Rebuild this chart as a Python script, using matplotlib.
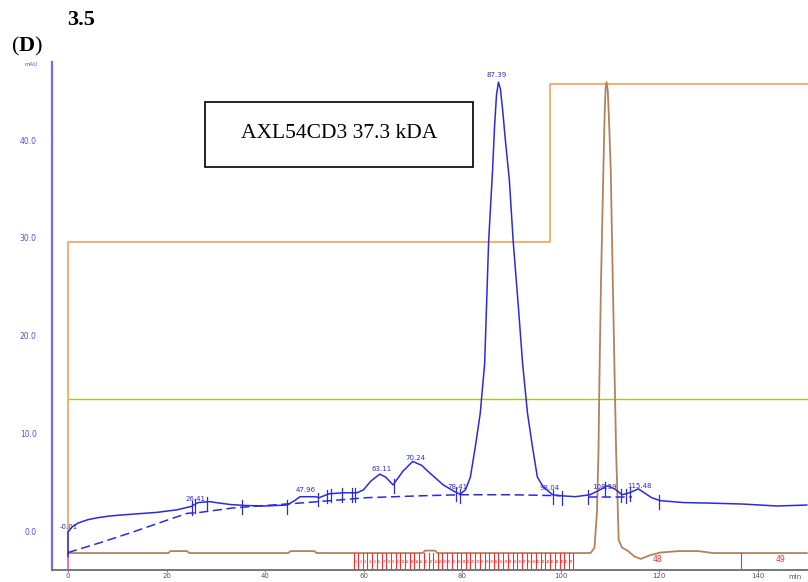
import numpy as np
import matplotlib
matplotlib.use("Agg")
import matplotlib.pyplot as plt
from matplotlib.patches import Rectangle

plt.rcParams['mathtext.fontset'] = 'custom'
plt.rcParams['mathtext.rm'] = 'Liberation Serif'
plt.rcParams['mathtext.bf'] = 'Liberation Serif:bold'

# ---------------- data ----------------
# UV 280 nm trace (blue, mAU) vs time (min)
blue_t = [0, 0, 0.8, 2, 4, 6, 8, 10, 14, 18, 22, 25, 26.4, 28.8, 30, 33, 36, 40, 44.5,
          46, 47.1, 50.2, 51, 53, 56, 58.7, 60, 61.5, 63.3, 64.5, 66.0, 68, 70.0, 71.8,
          73.5, 76.2, 78.2, 79.6, 80.7, 81.7, 82.7, 83.7, 84.3, 84.6, 85.4, 86.2, 86.6,
          87.0, 87.4, 87.8, 88.3, 88.8, 89.6, 90.4, 91.5, 92.3, 93.3, 94.3, 95.3, 96.5,
          98.4, 100, 103, 106, 108, 109.5, 111, 112.5, 114, 115.8, 117, 118.5, 120.2,
          125, 130, 137, 144, 150]
blue_v = [-2.5, 0.0, 0.5, 0.9, 1.25, 1.45, 1.6, 1.7, 1.85, 2.0, 2.25, 2.6, 3.0, 3.1,
          3.0, 2.8, 2.7, 2.65, 2.75, 3.2, 3.6, 3.6, 3.5, 3.9, 4.0, 4.0, 4.3, 5.2, 5.9,
          5.6, 4.8, 6.2, 7.2, 6.8, 6.0, 4.8, 4.2, 3.85, 4.3, 5.6, 8.7, 12.1, 15.5, 17.2,
          29.6, 36.9, 41.3, 44.6, 45.9, 45.2, 42.8, 40.0, 36.0, 29.6, 22.6, 17.2, 12.1,
          8.7, 5.6, 4.6, 3.8, 3.7, 3.6, 3.8, 4.3, 4.7, 4.4, 3.8, 4.0, 4.4, 4.0, 3.5, 3.2,
          3.0, 2.95, 2.85, 2.65, 2.75]

# integration baseline (dashed blue)
base1_t = [0, 6.5, 13.2, 20.1, 24.2, 26.8, 33.5, 40, 48.4, 60.7, 72.2, 79.7, 90, 100]
base1_v = [-2.1, -1.1, 0.0, 1.2, 1.9, 2.0, 2.45, 2.7, 3.0, 3.5, 3.7, 3.8, 3.8, 3.7]
base2_t = [105.5, 114.5]
base2_v = [3.6, 3.6]

# peak boundary markers (min)
marker_t = [25.2, 25.8, 28.2, 35.4, 44.5, 50.8, 52.6, 53.3, 55.6, 57.7, 58.3, 66.1,
            78.7, 79.5, 98.4, 100.4, 105.5, 109.1, 112.2, 113.2, 114.1, 119.9]

# peak labels
peak_labels = ["-0.01", "26.41", "47.96", "63.11", "70.24", "78.41", "87.39",
               "98.04", "108.59", "115.48"]
peak_lab_t = [0.2, 25.8, 48.3, 63.6, 70.6, 79.0, 87.1, 97.7, 109.0, 116.0]
peak_lab_v = [0.5, 3.4, 4.3, 6.4, 7.5, 4.6, 46.6, 4.5, 4.6, 4.7]

# conductivity trace (brown)
brown_t = [0, 20.4, 20.8, 24.2, 24.6, 44.7, 45.2, 50.0, 50.5, 72, 72.5, 74.5, 75,
           106.1, 106.9, 107.4, 107.7, 107.9, 108.2, 108.7, 108.95, 109.15, 109.35,
           109.6, 109.85, 110.2, 110.6, 111.0, 111.3, 111.6, 111.8, 112.5, 113.6, 115,
           116.3, 118.3, 120.3, 124, 128, 131, 150]
brown_v = [-2.15, -2.15, -1.95, -1.95, -2.15, -2.15, -1.95, -1.95, -2.15, -2.15, -1.9,
           -1.9, -2.15, -2.15, -1.6, 2.0, 8.0, 15.5, 25.0, 36.9, 42.5, 45.2, 45.9, 45.0,
           42.0, 36.9, 26.0, 15.5, 8.0, 3.0, -0.8, -1.6, -1.9, -2.5, -2.75, -2.35, -2.1,
           -1.95, -1.95, -2.15, -2.15]

# gradient (%B, orange step) and green trace
grad_t = [0, 0, 97.9, 97.9, 152]
grad_v = [-2.2, 29.6, 29.6, 45.7, 45.7]
green_t = [0, 152]
green_v = [13.6, 13.6]

# fraction boundaries (min) and labels
frac_edges = [58.0, 58.9, 59.9, 60.8, 61.8, 62.7, 63.7, 64.6, 65.6, 66.5, 67.5, 68.4,
              69.4, 70.3, 71.3, 72.2, 73.2, 74.1, 75.1, 76.0, 77.0, 77.9, 78.9, 79.8,
              80.8, 81.7, 82.7, 83.6, 84.6, 85.5, 86.5, 87.4, 88.4, 89.3, 90.3, 91.2,
              92.2, 93.1, 94.1, 95.0, 96.0, 96.9, 97.9, 98.8, 99.8, 100.7, 101.7, 102.6,
              136.7]
big_frac_labels = ["48", "49"]
big_frac_t = [119.6, 144.7]

x_ticks = [0, 20, 40, 60, 80, 100, 120, 140]
y_ticks = [0.0, 10.0, 20.0, 30.0, 40.0]

# ---------------- figure ----------------
W, H = 808, 582
fig = plt.figure(figsize=(W / 100, H / 100), dpi=100)
ax = fig.add_axes([52 / W, 12 / H, 756 / W, 508 / H])
ax.set_xlim(-3.25, 150.25)
ax.set_ylim(-3.88, 47.96)

BLUE = "#2b2bdc"
ORANGE = "#f7a863"
GREEN = "#9acd32"
BROWN = "#b3825c"
RED = "#ff2b2b"

ax.plot(green_t, green_v, color=GREEN, lw=1.0)
ax.plot(grad_t, grad_v, color=ORANGE, lw=1.3)
ax.plot([0, 0], [-3.88, -2.2], color="#ff55cc", lw=1.3)
ax.plot(brown_t, brown_v, color=BROWN, lw=1.3)

# fractions
for e in frac_edges:
    ax.plot([e, e], [-3.88, -2.15], color=RED, lw=0.8)
for i in range(len(frac_edges) - 2):
    mid = 0.5 * (frac_edges[i] + frac_edges[i + 1])
    ax.text(mid, -3.05, str(i + 1), color=RED, fontsize=2.6, ha='center', va='center')
for lab, t in zip(big_frac_labels, big_frac_t):
    ax.text(t, -2.85, lab, color=RED, fontsize=5.5, ha='center', va='center')

# blue traces
ax.plot(base1_t, base1_v, color=BLUE, lw=1.1, ls=(0, (6, 3)))
ax.plot(base2_t, base2_v, color=BLUE, lw=1.1, ls=(0, (6, 3)))
ax.plot(blue_t, blue_v, color=BLUE, lw=1.1)
for t in marker_t:
    yc = np.interp(t, blue_t[1:], blue_v[1:]) - 0.2
    ax.plot([t, t], [yc - 0.7, yc + 0.7], color=BLUE, lw=0.9)
for lab, t, v in zip(peak_labels, peak_lab_t, peak_lab_v):
    ax.text(t, v, lab, color=BLUE, fontsize=5, ha='center', va='center')

# axes styling
for s in ['top', 'right']:
    ax.spines[s].set_visible(False)
ax.spines['left'].set_color("#6b6bff")
ax.spines['left'].set_linewidth(1.6)
ax.spines['bottom'].set_color("#777777")
ax.spines['bottom'].set_linewidth(1.4)
ax.set_xticks(x_ticks)
ax.set_xticklabels([str(v) for v in x_ticks])
ax.set_yticks(y_ticks)
ax.set_yticklabels(["%.1f" % v for v in y_ticks])
ax.tick_params(axis='x', length=1.5, width=0.8, color="#777777", pad=0.5,
               labelsize=5, labelcolor="#555555")
ax.tick_params(axis='y', length=0, pad=11, labelsize=5.5, labelcolor="#5050e0")
ax.annotate("min", xy=(147.6, -3.88), xytext=(0, -2.8), textcoords='offset points',
            fontsize=5, color="#555555", ha='center', va='top', annotation_clip=False)
ax.patch.set_alpha(0)

# figure texts
fig.text(31 / W, 1 - 65 / H, "mAU", color="#5050e0", fontsize=4, ha='center', va='center')
fig.text(81 / W, 1 - 20 / H, "3.5", fontsize=16, fontweight='bold',
         family='Liberation Serif', ha='center', va='center')
fig.text(27 / W, 1 - 46 / H, r"($\mathbf{D}$)", fontsize=16,
         family='Liberation Serif', ha='center', va='center')

box = Rectangle((205 / W, 1 - 167 / H), 268 / W, 65 / H, transform=fig.transFigure,
                facecolor='white', edgecolor='black', lw=1.2)
fig.patches.append(box)
fig.text(339 / W, 1 - 133 / H, "AXL54CD3 37.3 kDA", fontsize=15.5,
         family='Liberation Serif', ha='center', va='center')

fig.savefig("out.png", dpi=100)
